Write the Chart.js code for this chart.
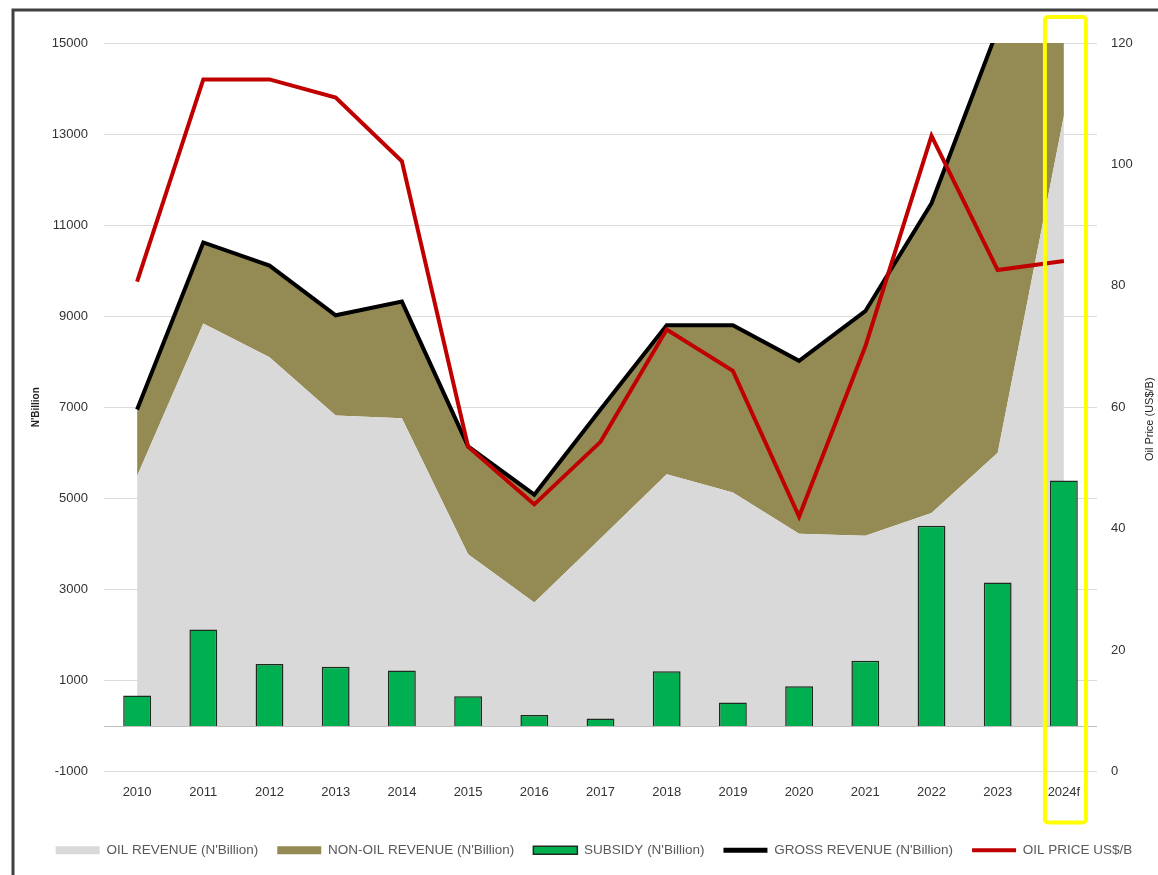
<!DOCTYPE html>
<html>
<head>
<meta charset="utf-8">
<script src="https://cdn.jsdelivr.net/npm/chart.js@4.4.1/dist/chart.umd.min.js"></script>
<style>
  html, body { margin: 0; padding: 0; background: #fff; }
  #wrap { width: 1158px; height: 875px; }
</style>
</head>
<body>
<div id="wrap"><canvas id="revenueChart" width="1158" height="875"></canvas></div>
<script>
// N'Billion unless noted
const years = ['2010', '2011', '2012', '2013', '2014', '2015', '2016', '2017', '2018', '2019', '2020', '2021', '2022', '2023', '2024f'];
const oilRevenue = [5490, 8840, 8100, 6820, 6760, 3770, 2710, 4120, 5530, 5130, 4220, 4180, 4680, 6000, 13400];
const nonOilRevenue = [1460, 1780, 2010, 2200, 2560, 2370, 2370, 2830, 3270, 3670, 3800, 4930, 6800, 9300, 6100];
const grossRevenue = [6950, 10620, 10110, 9020, 9320, 6140, 5080, 6950, 8800, 8800, 8020, 9110, 11480, 15300, 19500];
const subsidy = [670, 2120, 1360, 1300, 1220, 650, 240, 165, 1200, 517, 870, 1435, 4400, 3150, 5390];
// US$ per barrel
const oilPrice = [80.7, 114, 114, 111, 100.5, 53.5, 44, 54.3, 72.8, 66, 42, 70, 104.7, 82.6, 84.1];

const leftTicks = { min: -1000, max: 15000, step: 2000 };
const rightTicks = { min: 0, max: 120, step: 20 };

const FONT = "'Liberation Sans', Arial, sans-serif";

// legend swatches: areas as flat bars, lines as thick strokes
const legendLook = [
  { pointStyle: 'rect', fillStyle: '#D9D9D9', strokeStyle: '#D9D9D9', lineWidth: 0 },
  { pointStyle: 'rect', fillStyle: '#948A54', strokeStyle: '#948A54', lineWidth: 0 },
  { pointStyle: 'rect', fillStyle: '#00B050', strokeStyle: '#1E2A1E', lineWidth: 1.5 },
  { pointStyle: 'line', fillStyle: '#000000', strokeStyle: '#000000', lineWidth: 5 },
  { pointStyle: 'line', fillStyle: '#C00000', strokeStyle: '#C00000', lineWidth: 4 }
];

const chartFrame = {
  id: 'chartFrame',
  beforeDraw(chart) {
    const ctx = chart.ctx;
    ctx.save();
    ctx.strokeStyle = '#404040';
    ctx.lineWidth = 3;
    ctx.beginPath();
    ctx.moveTo(13, chart.height);
    ctx.lineTo(13, 10);
    ctx.lineTo(chart.width, 10);
    ctx.stroke();
    ctx.restore();
  }
};

const zeroLine = {
  id: 'zeroLine',
  beforeDatasetsDraw(chart) {
    const { ctx, chartArea, scales } = chart;
    const y0 = Math.round(scales.y.getPixelForValue(0)) + 0.5;
    ctx.save();
    ctx.strokeStyle = '#BFBFBF';
    ctx.lineWidth = 1;
    ctx.beginPath();
    ctx.moveTo(chartArea.left, y0);
    ctx.lineTo(chartArea.right, y0);
    ctx.stroke();
    ctx.restore();
  }
};

// rotated title for the price axis, reading bottom to top
const priceTitle = {
  id: 'priceTitle',
  afterDraw(chart) {
    const { ctx, chartArea, scales } = chart;
    ctx.save();
    ctx.translate(scales.y1.right - 8, (chartArea.top + chartArea.bottom) / 2 + 12);
    ctx.rotate(-Math.PI / 2);
    ctx.font = "11px " + FONT;
    ctx.fillStyle = '#222';
    ctx.textAlign = 'center';
    ctx.textBaseline = 'middle';
    ctx.fillText('Oil Price (US$/B)', 0, 0);
    ctx.restore();
  }
};

// yellow outline around the forecast year
const forecastBox = {
  id: 'forecastBox',
  afterDraw(chart) {
    const { ctx, chartArea, scales } = chart;
    const cx = scales.x.getPixelForValue(years.length - 1);
    ctx.save();
    ctx.strokeStyle = '#FFFF00';
    ctx.lineWidth = 4;
    ctx.beginPath();
    ctx.roundRect(cx - 19, chartArea.top - 26, 41, chartArea.bottom - chartArea.top + 77, 3);
    ctx.stroke();
    ctx.restore();
  }
};

const ctx = document.getElementById('revenueChart').getContext('2d');
const revenueChart = new Chart(ctx, {
  type: 'bar',
  data: {
    labels: years,
    datasets: [{
      type: 'line',
      label: "OIL REVENUE (N'Billion)",
      data: oilRevenue,
      stack: 'revenue',
      fill: 'origin',
      backgroundColor: '#D9D9D9',
      borderColor: 'rgba(0,0,0,0)',
      borderWidth: 0,
      pointRadius: 0,
      order: 10
    }, {
      type: 'line',
      label: "NON-OIL REVENUE (N'Billion)",
      data: nonOilRevenue,
      stack: 'revenue',
      fill: '-1',
      backgroundColor: '#948A54',
      borderColor: 'rgba(0,0,0,0)',
      borderWidth: 0,
      pointRadius: 0,
      order: 10
    }, {
      type: 'bar',
      label: "SUBSIDY (N'Billion)",
      data: subsidy,
      stack: 'subsidy',
      backgroundColor: '#00B050',
      borderColor: '#1E2A1E',
      borderWidth: 1.5,
      barPercentage: 0.42,
      categoryPercentage: 1,
      order: 3
    }, {
      type: 'line',
      label: "GROSS REVENUE (N'Billion)",
      data: grossRevenue,
      stack: 'gross',
      fill: false,
      borderColor: '#000000',
      borderWidth: 4,
      pointRadius: 0,
      order: 2
    }, {
      type: 'line',
      label: 'OIL PRICE US$/B',
      data: oilPrice,
      yAxisID: 'y1',
      fill: false,
      borderColor: '#C00000',
      borderWidth: 4,
      pointRadius: 0,
      order: 1
    }]
  },
  options: {
    responsive: false,
    animation: false,
    layout: { padding: { left: 30, right: 0, top: 43, bottom: 8 } },
    scales: {
      x: {
        grid: { display: false, drawTicks: false },
        border: { display: false },
        ticks: { padding: 13, color: '#333', font: { size: 13, family: FONT }, maxRotation: 0, autoSkip: false },
        afterFit: (scale) => { scale.height = 53; }
      },
      y: {
        position: 'left',
        stacked: true,
        min: leftTicks.min,
        max: leftTicks.max,
        ticks: {
          stepSize: leftTicks.step,
          padding: 16,
          color: '#333',
          font: { size: 13, family: FONT },
          callback: (value) => String(value)
        },
        grid: { color: '#DCDCDC', drawTicks: false },
        border: { display: false },
        title: { display: true, text: "N'Billion", color: '#222', font: { size: 10, weight: 'bold', family: FONT }, padding: 0 },
        afterFit: (scale) => { scale.width = 74; }
      },
      y1: {
        position: 'right',
        min: rightTicks.min,
        max: rightTicks.max,
        ticks: {
          stepSize: rightTicks.step,
          padding: 14,
          color: '#333',
          font: { size: 13, family: FONT },
          callback: (value) => String(value)
        },
        grid: { display: false, drawTicks: false },
        border: { display: false },
        afterFit: (scale) => { scale.width = 61; }
      }
    },
    plugins: {
      filler: { drawTime: 'beforeDatasetsDraw' },
      tooltip: { enabled: false },
      legend: {
        position: 'bottom',
        labels: {
          usePointStyle: true,
          pointStyleWidth: 44,
          boxHeight: 8,
          padding: 19,
          color: '#595959',
          font: { size: 13.5, family: FONT },
          generateLabels: (chart) => chart.data.datasets.map((ds, i) => Object.assign({
            text: ds.label,
            fontColor: '#595959',
            datasetIndex: i,
            hidden: false
          }, legendLook[i]))
        }
      }
    }
  },
  plugins: [chartFrame, zeroLine, priceTitle, forecastBox]
});
</script>
</body>
</html>
